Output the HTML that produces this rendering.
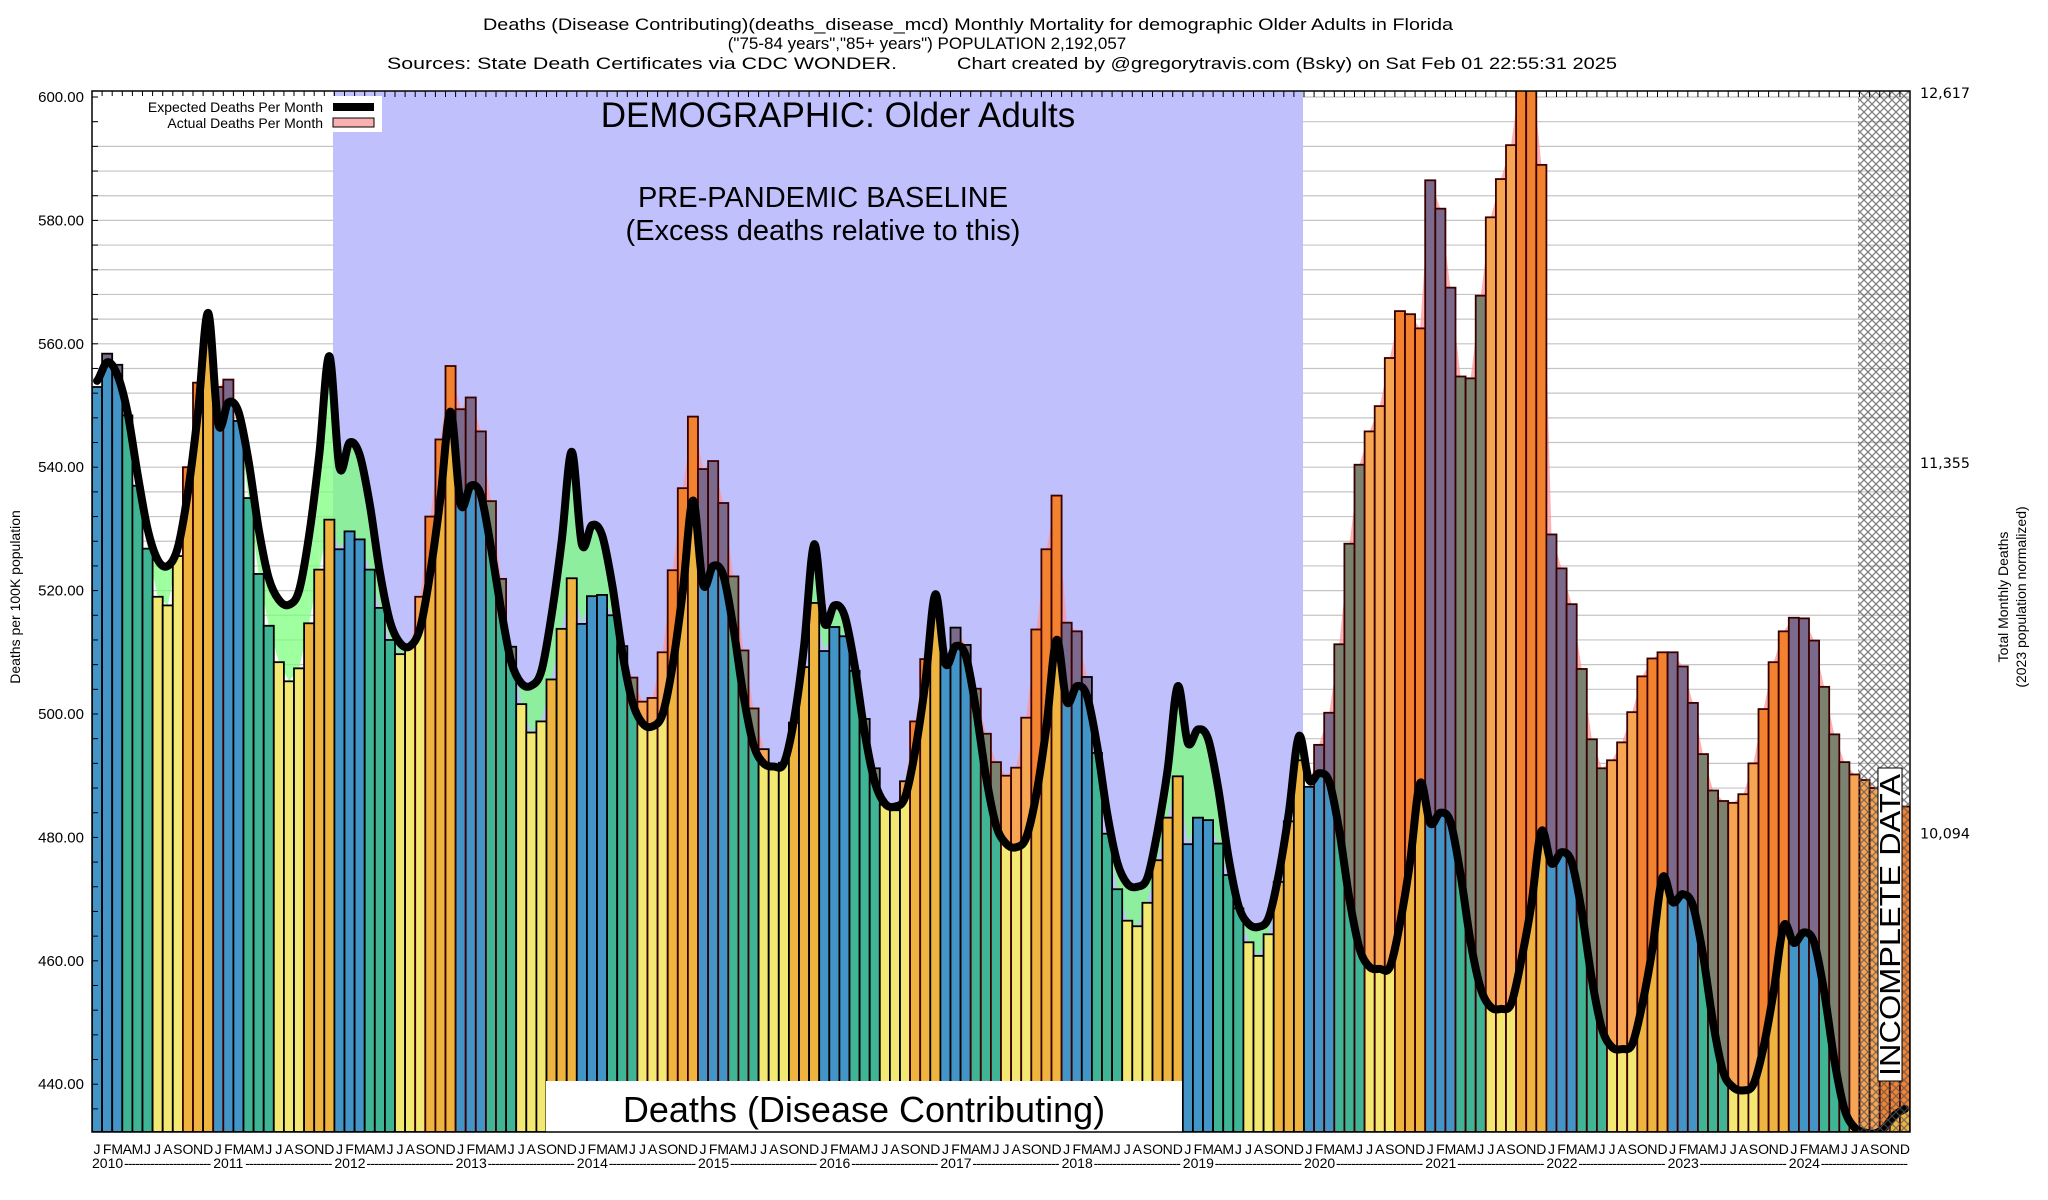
<!DOCTYPE html>
<html><head><meta charset="utf-8"><title>Deaths (Disease Contributing) Older Adults Florida</title>
<style>
html,body{margin:0;padding:0;background:#fff;}
svg{display:block;font-family:"Liberation Sans",sans-serif;}
</style></head>
<body>
<svg id="chart" xmlns="http://www.w3.org/2000/svg" width="2048" height="1200" viewBox="0 0 2048 1200">
<defs>
<clipPath id="plotclip"><rect x="92" y="91" width="1818" height="1041"/></clipPath>
<pattern id="hatch" width="8" height="8" patternUnits="userSpaceOnUse">
<path d="M0,0 L8,8 M8,0 L0,8" stroke="#555" stroke-width="1.3"/>
</pattern>
</defs>
<rect x="0" y="0" width="2048" height="1200" fill="#fff"/>
<g id="grid"></g>
<rect x="333" y="91" width="970" height="1041" fill="#c0c0fd"/>
<g id="fills" clip-path="url(#plotclip)"></g>
<g id="bars" clip-path="url(#plotclip)"></g>
<g id="line" clip-path="url(#plotclip)"></g>
<rect x="1858" y="91" width="51" height="1041" fill="url(#hatch)" opacity="0.75"/>
<rect x="546" y="1081" width="636" height="51" fill="#fff"/>
<text x="864" y="1122" font-size="36" text-anchor="middle">Deaths (Disease Contributing)</text>
<rect x="1878" y="768" width="24" height="313" fill="#fff" stroke="#000" stroke-width="1"/>
<text transform="translate(1900,1076) rotate(-90)" font-size="29" textLength="302" lengthAdjust="spacingAndGlyphs">INCOMPLETE DATA</text>
<rect x="92" y="91" width="1818" height="1041" fill="none" stroke="#000" stroke-width="1.5"/>
<g id="ticks"></g>
<g id="xlabels"></g>
<g id="ylabels"></g>
<text x="968" y="30" font-size="17" text-anchor="middle" textLength="970" lengthAdjust="spacingAndGlyphs">Deaths (Disease Contributing)(deaths_disease_mcd) Monthly Mortality for demographic Older Adults in Florida</text>
<text x="927" y="49" font-size="17" text-anchor="middle">("75-84 years","85+ years") POPULATION 2,192,057</text>
<text x="387" y="69" font-size="17" textLength="510" lengthAdjust="spacingAndGlyphs">Sources: State Death Certificates via CDC WONDER.</text>
<text x="957" y="69" font-size="17" textLength="660" lengthAdjust="spacingAndGlyphs">Chart created by @gregorytravis.com (Bsky) on Sat Feb 01 22:55:31 2025</text>
<text x="838" y="127" font-size="35" text-anchor="middle">DEMOGRAPHIC: Older Adults</text>
<text x="823" y="207" font-size="29" text-anchor="middle">PRE-PANDEMIC BASELINE</text>
<text x="823" y="240" font-size="29" text-anchor="middle">(Excess deaths relative to this)</text>
<g>
<rect x="98" y="96" width="284" height="36" fill="#fff"/>
<text x="323" y="112" font-size="14" text-anchor="end">Expected Deaths Per Month</text>
<rect x="333" y="103" width="41" height="8" fill="#000"/>
<text x="323" y="128" font-size="14" text-anchor="end">Actual Deaths Per Month</text>
<rect x="333" y="118" width="41" height="9" fill="#f9b0b0" stroke="#000" stroke-width="1"/>
</g>
<text transform="translate(20,597) rotate(-90)" font-size="14" text-anchor="middle">Deaths per 100K population</text>
<text transform="translate(2008,597) rotate(-90)" font-size="14" text-anchor="middle">Total Monthly Deaths</text>
<text transform="translate(2026,597) rotate(-90)" font-size="14" text-anchor="middle">(2023 population normalized)</text>
<g id="rlabels"></g>
</svg>
<script>
var years = [2010,2011,2012,2013,2014,2015,2016,2017,2018,2019,2020,2021,2022,2023,2024];
var monthLetters = ["J","F","M","A","M","J","J","A","S","O","N","D"];
var actualDeaths = [
553,558.4,556.6,548.4,537,526.8,519,517.6,525.6,540,553.7,562,
553,554.2,547.5,535,522.7,514.3,508.4,505.3,507.4,514.7,523.4,531.5,
526.7,529.6,528.3,523.4,517.2,512,509.7,511,519,532,544.5,556.4,
549.4,551.3,545.8,534.5,521.9,510.9,501.6,497,498.8,505.6,513.8,522,
514.6,519.1,519.3,516,511,505.9,502,502.6,510,523.3,536.6,548.2,
539.7,541,534.2,522.3,510.3,500.9,494.3,491.2,492.1,498.6,507.6,518,
510.2,514.1,512.6,507,499.2,491.2,485.3,484.4,489.1,498.8,508.9,516,
508,514,511.2,504.1,496.8,492.2,490,491.3,499.4,513.7,526.7,535.4,
514.8,513.4,506,493.7,480.6,471.6,466.5,465.6,469.4,476.3,483.2,489.9,
478.9,483.2,482.8,479,473.9,468.5,463,460.8,464.3,472.8,482.6,492.5,
488.2,495,500.2,511.3,527.6,540.4,545.8,549.9,557.7,565.3,564.8,562.5,
586.5,581.9,569.1,554.7,554.4,567.8,580.5,586.7,592.2,604,606,589,
529.1,523.6,517.8,507.3,495.9,491.2,492.5,495.4,500.3,506.1,509,510,
510,507.7,501.8,493.5,487.6,485.9,485.6,487,492,500.8,508.4,513.4,
515.6,515.5,511.9,504.4,496.7,492.2,490.2,489.3,488,487.3,486.5,485
];
var expectedDeaths = [
554,557,555,549,539,530,525,524,527,536,549,565,
547,550.5,549,541,530,522,518.5,517.7,520,529,542,558,
540,544,542,534,523,515,511.5,511,514,523,535,549,
534,537,535.5,527,517,508.5,505,504.6,507,516,528,542.5,
527.5,530.6,529,521,510,502,498.5,498,500,508,520,534.6,
521,524,522.5,514,503,495,492,491.5,492,499,511,527.5,
514.8,517.6,516,508,497,489,485.5,485,486.5,494,505,519.4,
508.2,511,509.5,501,490,482,479,478.4,480,487,498,512,
502,504.5,503,495,484,476,472.5,472,473.5,481,491,504.5,
495.3,497.5,496,488,477,469,466,465.5,467,474,484,496.4,
489.3,490.4,489,481,470,462,459,458.7,459,466,476,488.8,
482.3,484,482.5,474,463,455.5,452.5,452.2,453,460,469,481,
475.8,477.6,476,468,457,449,446,445.7,446.5,453,462,473.5,
469.5,470.8,469,461,450,442,439.5,439,440,446,455,465.7,
462.9,464.6,463,455,444,436,433,432.2,432,433,435,436
];
var yTicks = [440,460,480,500,520,540,560,580,600];
var rightTickLabels = ["12,617","11,355","10,094"];
var rightTickValues = [600,540,480];

var X0 = 92, MW = 10.1, YTOP = 97, PX = 6.17;
function xs(i){ return X0 + i*MW; }
function xc(i){ return X0 + i*MW + MW/2; }
function ys(v){ return YTOP + (600 - v)*PX; }
var YB = 1132;
var NS = "http://www.w3.org/2000/svg";
function mk(tag, attrs, parent){
  var e = document.createElementNS(NS, tag);
  for (var k in attrs) e.setAttribute(k, attrs[k]);
  parent.appendChild(e);
  return e;
}
var seasonCol = ["#4394c7","#3fb596","#f2e872","#eeb43f"];
var excessCol = ["#7b6a8b","#7b8270","#f6a552","#f2822f"];

var grid = document.getElementById("grid");
for (var g = 436; g <= 600; g += 4) {
  var gl = mk("line", {x1:X0, x2:1909, y1:ys(g), y2:ys(g), stroke:"#c4c4c4", "stroke-width":1.2}, grid);
  
  
}

var fills = document.getElementById("fills");
for (var i = 0; i < actualDeaths.length - 1; i++) {
  var a0 = actualDeaths[i], a1 = actualDeaths[i+1], e0 = expectedDeaths[i], e1 = expectedDeaths[i+1];
  var over = (a0 + a1) > (e0 + e1);
  var pts = xc(i)+","+ys(a0)+" "+xc(i+1)+","+ys(a1)+" "+xc(i+1)+","+ys(e1)+" "+xc(i)+","+ys(e0);
  var pg = mk("polygon", {points:pts, fill: over ? "rgba(255,150,150,0.75)" : "rgba(120,255,120,0.72)"}, fills);
  
  
}

var bars = document.getElementById("bars");
for (var i = 0; i < actualDeaths.length; i++) {
  var q = Math.floor((i % 12) / 3);
  var a = actualDeaths[i], e = expectedDeaths[i];
  var low = Math.min(a, e);
  var b1 = mk("rect", {x:xs(i), y:ys(low), width:MW, height:YB - ys(low), fill:seasonCol[q]}, bars);
  
  
  if (a > e) {
    var b2 = mk("rect", {x:xs(i), y:ys(a), width:MW, height:ys(e) - ys(a), fill:excessCol[q]}, bars);
    
    
  }
  var bo = mk("rect", {x:xs(i), y:ys(a), width:MW, height:YB - ys(a), fill:"none", stroke:(a > e + 3 ? "#3a0000" : "#000"), "stroke-width":1.8}, bars);
  
  
}

var lg = document.getElementById("line");
var P = expectedDeaths.map(function(v,i){ return [xc(i), ys(v)]; });
P.unshift([X0 - 4, P[0][1]]);
var d = "M" + P[1][0] + "," + P[1][1];
for (var i = 1; i < P.length - 1; i++) {
  var p0 = P[i-1], p1 = P[i], p2 = P[i+1], p3 = P[i+2] || P[i+1];
  var c1x = p1[0] + (p2[0]-p0[0])/6, c1y = p1[1] + (p2[1]-p0[1])/6;
  var c2x = p2[0] - (p3[0]-p1[0])/6, c2y = p2[1] - (p3[1]-p1[1])/6;
  d += " C" + c1x + "," + c1y + " " + c2x + "," + c2y + " " + p2[0] + "," + p2[1];
}
var ln = mk("path", {d:d, fill:"none", stroke:"#000", "stroke-width":8, "stroke-linejoin":"round", "stroke-linecap":"round"}, lg);



var tk = document.getElementById("ticks");
for (var i = 0; i <= 180; i++) {
  var t = mk("line", {x1:xs(i), x2:xs(i), y1:91, y2:97, stroke:"#000", "stroke-width":1}, tk);
  
  
}
for (var g = 436; g <= 600; g += 4) {
  var t2 = mk("line", {x1:92, x2:98, y1:ys(g), y2:ys(g), stroke:"#000", "stroke-width":1}, tk);
  
  
}

var yl = document.getElementById("ylabels");
yTicks.forEach(function(v){
  var t = mk("text", {x:84, y:ys(v)+5, "font-size":15, "text-anchor":"end"}, yl);
  t.textContent = v.toFixed(2);
  
  
});
var rl = document.getElementById("rlabels");
rightTickLabels.forEach(function(s, k){
  var t = mk("text", {x:1920, y:ys(rightTickValues[k])+1, "font-size":14, "font-family":"DejaVu Sans, sans-serif", textLength:50, lengthAdjust:"spacingAndGlyphs"}, rl);
  t.textContent = s;
  
  
});

var xl = document.getElementById("xlabels");
for (var i = 0; i < 180; i++) {
  var t = mk("text", {x:xc(i), y:1154, "font-size":14, "text-anchor":"middle"}, xl);
  t.textContent = monthLetters[i % 12];
  
  
}
years.forEach(function(yr, k){
  var x = xs(k*12);
  var t = mk("text", {x:x, y:1168, "font-size":14}, xl);
  t.textContent = yr;
  
  
  var dsh = mk("text", {x:x+32, y:1168, "font-size":14, textLength:12*MW-34, lengthAdjust:"spacing"}, xl);
  dsh.textContent = "-----------------------";
  
  
});
</script>
</body></html>
